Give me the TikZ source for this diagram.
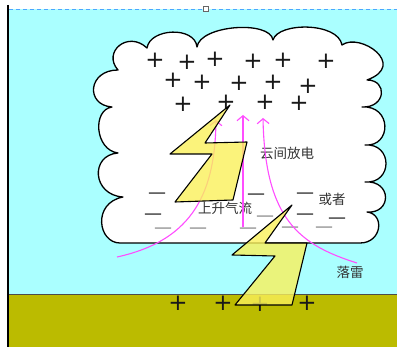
\documentclass[tikz,border=0pt]{standalone}
\usepackage{fontspec}
\newfontfamily\cjk{Noto Sans CJK SC}
\newfontfamily\signs{DejaVu Sans}
\usetikzlibrary{arrows.meta}
\definecolor{sky}{HTML}{AAFFFF}
\definecolor{soil}{HTML}{BBBB00}
\definecolor{boltyellow}{HTML}{FAF05A}
\definecolor{airflow}{HTML}{FF4DFF}
\definecolor{guide}{HTML}{4DA6FF}
\tikzstyle{charge} = [inner sep=0pt, text=black!90, font=\signs\fontsize{23}{23}\selectfont]
\tikzstyle{negcharge} = [inner sep=0pt, anchor=base, yshift=-5.6pt, text=black!85, font=\signs\fontsize{18}{18}\selectfont]
\tikzstyle{faint} = [negcharge, text=black!45]
\tikzstyle{cntext} = [inner sep=0pt, text=black!80, font=\cjk\fontsize{13.5}{16}\selectfont]
\tikzstyle{bolt} = [draw=black, line width=1.1pt, fill=boltyellow, fill opacity=0.8, line join=round]
\tikzstyle{flow} = [draw=airflow, line width=1.1pt, -{Straight Barb[length=5pt,width=12pt]}]

\begin{document}
\begin{tikzpicture}[x=1pt, y=-1pt]
                \useasboundingbox (0,0) rectangle (397,347);
                \fill[white] (0,0) rectangle (397,347);
                % sky, ground and frame
                \fill[sky] (9,9) rectangle (397,294);
                \fill[soil] (9,294) rectangle (397,347);
                \draw[black!70, line width=0.8pt] (9,294) -- (397,294);
                \draw[guide, dash pattern=on 4pt off 3pt, line width=0.8pt] (9,9) -- (397,9);
                \draw[black!60, fill=white, line width=0.5pt] (203.5,6.5) rectangle (208.5,11.5);
                \draw[black, line width=1.2pt] (8,5) -- (8,347);

                % cloud
                \draw[fill=white, line width=1.3pt, line join=round]
                    (120,243) .. controls (98,243) and (92,203) .. (123,197)
                    .. controls (92,195) and (90,155) .. (118,153)
                    .. controls (95,150) and (92,110) .. (112,107)
                    .. controls (85,105) and (88,70) .. (118,70)
                    .. controls (102,52) and (128,30) .. (147,48)
                    .. controls (150,28) and (195,26) .. (197,47)
                    .. controls (200,25) and (270,20) .. (273,40)
                    .. controls (278,22) and (338,22) .. (342,45)
                    .. controls (360,32) and (408,65) .. (367,80)
                    .. controls (388,80) and (386,108) .. (362,107)
                    .. controls (392,105) and (392,147) .. (365,145)
                    .. controls (393,143) and (393,184) .. (365,182)
                    .. controls (392,180) and (392,214) .. (367,212)
                    .. controls (385,214) and (382,243) .. (360,243)
                    -- cycle;

                % charges
                \foreach \px/\py [count=\i] in {155/60, 187/62, 215/59, 253/61, 283/60, 326/61,
                        173/80, 202/82, 239/83, 273/82, 308/86, 183/104, 226/102, 265/102, 299/103}
                    \node[charge] (pos\i) at (\px,\py) {+};
                \foreach \px/\py [count=\i] in {157/193, 256/194, 305/193, 153/214, 305/214, 337/218}
                    \node[negcharge] (neg\i) at (\px,\py) {—};
                \foreach \px/\py [count=\i] in {265/216, 163/228, 198/228, 248/228, 290/227, 324/227}
                    \node[faint] (low\i) at (\px,\py) {—};
                \foreach \px/\py [count=\i] in {178/303, 223/303, 260/304, 307/303}
                    \node[charge] (gnd\i) at (\px,\py) {+};

                \node[cntext] (intercloud) at (287,153) {云间放电};
                \node[cntext] (updraft) at (225,208) {上升气流};
                \node[cntext] (orelse) at (332,199) {或者};
                \node[cntext] (strike) at (350,272) {落雷};

                % rising air
                \coordinate (flowLa) at (117,257);
                \coordinate (flowLb) at (216,120);
                \coordinate (flowMa) at (243,227);
                \coordinate (flowMb) at (243,115);
                \coordinate (flowRa) at (357,263);
                \coordinate (flowRb) at (263,118);
                \draw[flow] (flowLa) .. controls (195,240) and (215,190) .. (flowLb);
                \draw[flow] (flowMa) -- (flowMb);
                \draw[flow] (flowRa) .. controls (300,245) and (265,220) .. (flowRb);

                % lightning
                \draw[bolt] (230,105) -- (170,154) -- (212,154) -- (175,202) -- (233,200) -- (247,142) -- (205,143) -- cycle;
                \draw[bolt] (292,205) -- (232,255) -- (275,256) -- (235,305) -- (292,305) -- (307,243) -- (265,243) -- cycle;
            \end{tikzpicture}
\end{document}
